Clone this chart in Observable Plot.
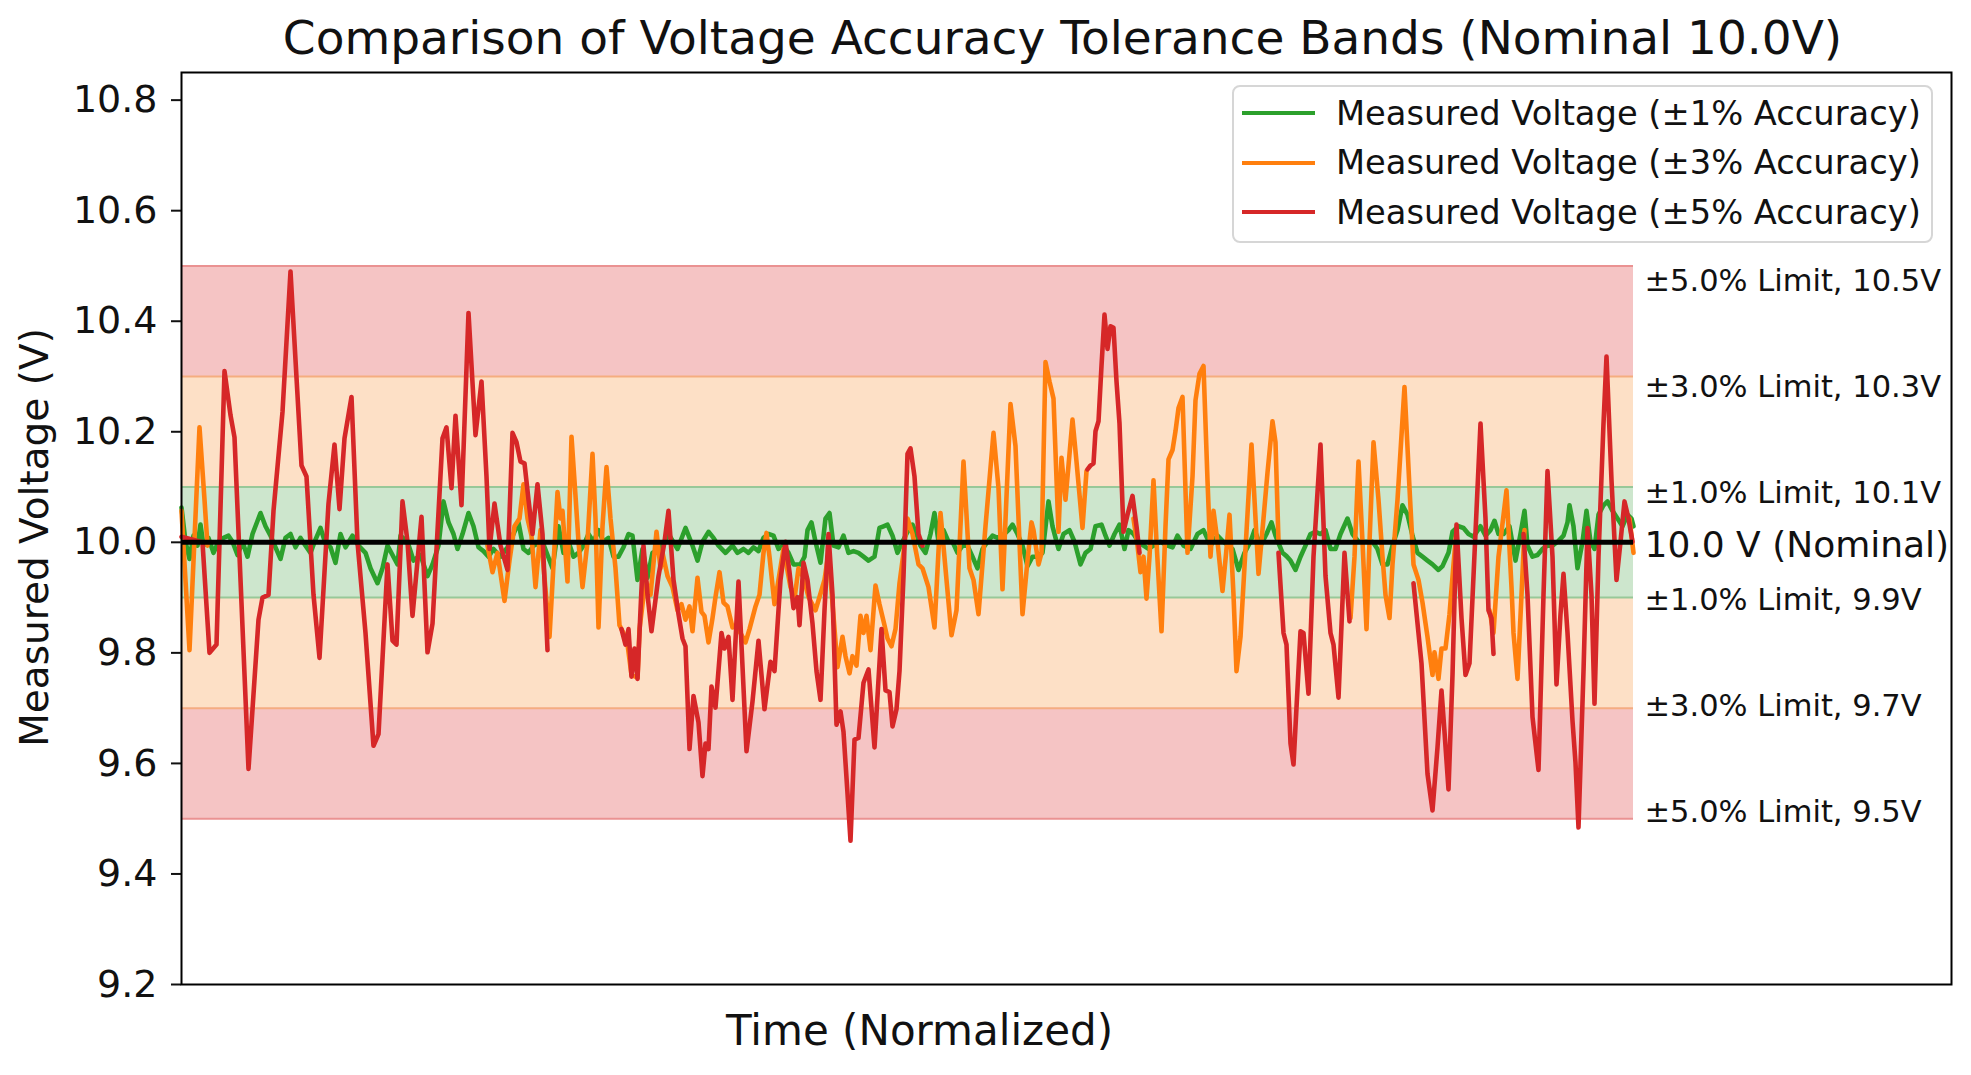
<!DOCTYPE html>
<html>
<head>
<meta charset="utf-8">
<script src="https://cdn.jsdelivr.net/npm/d3@7"></script>
<script src="https://cdn.jsdelivr.net/npm/@observablehq/plot@0.6"></script>
<style>
  body { margin: 0; background: #fff; font-family: "DejaVu Sans", sans-serif; }
  #chart { position: relative; width: 1971px; height: 1075px; }
  .legend { position: absolute; left: 1232px; top: 85px; width: 697px; height: 154px;
            border: 2px solid #d6d6d6; border-radius: 8px; background: rgba(255,255,255,0.85); }
  .legend .row { position: absolute; left: 0; height: 40px; display: flex; align-items: center; }
  .legend .swatch { width: 73px; height: 4px; margin-left: 8px; margin-right: 21px; }
  .legend .label { font-size: 33.7px; color: #111; white-space: nowrap; }
</style>
</head>
<body>
<div id="chart"></div>
<script>
// Nominal supply voltage and the accuracy classes (percent)
const nominal = 10.0;
const tolerances = [1, 3, 5];
const tierColors = {1: "#2ca02c", 3: "#ff7f0e", 5: "#d62728"};
const bandFills = {1: "#cde6cd", 3: "#fde0c6", 5: "#f5c4c4"};
const edgeColors = {1: "#98c898", 3: "#f5ad80", 5: "#ea9292"};
const yTicks = [9.2, 9.4, 9.6, 9.8, 10.0, 10.2, 10.4, 10.6, 10.8];

// Measured readings as [time, volts]; null volts mark dropouts in a trace
const green1pct = [[0,10.063],[4,10.001],[8,9.970],[12,10.012],[16,9.994],[19,10.032],[22,9.994],[27,10.008],[32,9.981],[37,10.001],[42,10.008],[47,10.012],[51,10.001],[56,9.977],[61,10.001],[66,9.974],[71,10.015],[79,10.053],[84,10.029],[89,10.012],[94,9.991],[99,9.970],[104,10.008],[109,10.015],[114,9.991],[119,10.008],[124,9.994],[129,9.981],[134,10.005],[139,10.026],[144,9.998],[149,9.991],[154,9.963],[159,10.015],[164,9.991],[171,10.012],[177,9.994],[184,9.981],[189,9.953],[196,9.926],[201,9.953],[206,9.994],[211,9.977],[216,9.960],[219,10.012],[226,10.001],[232,9.967],[239,9.977],[246,9.939],[251,9.960],[257,9.994],[262,10.074],[267,10.036],[272,10.015],[276,9.988],[281,10.015],[287,10.053],[292,10.029],[297,9.991],[302,9.984],[307,9.974],[312,9.988],[319,9.974],[326,9.991],[332,10.015],[337,10.036],[342,9.988],[347,9.981],[352,9.994],[361,10.001],[371,9.953],[377,10.029],[382,9.981],[387,10.001],[392,9.974],[397,9.981],[402,9.994],[407,10.015],[412,10.001],[417,10.022],[422,10.001],[427,10.008],[432,9.974],[437,9.974],[442,9.991],[447,10.015],[451,10.012],[456,9.932],[461,9.988],[466,9.936],[471,9.981],[479,9.988],[487,10.015],[496,9.988],[504,10.026],[511,9.994],[516,9.967],[521,10.001],[527,10.019],[532,10.008],[537,9.994],[544,9.981],[551,9.994],[556,9.981],[562,9.988],[567,9.981],[572,9.991],[577,9.984],[582,10.008],[587,10.015],[592,10.012],[597,9.988],[602,9.994],[607,9.981],[612,9.960],[619,9.960],[623,9.974],[626,10.022],[630,10.036],[634,10.001],[639,9.963],[644,10.043],[648,10.053],[652,9.994],[657,9.991],[662,10.012],[667,9.981],[672,9.984],[677,9.981],[682,9.974],[687,9.967],[693,9.974],[698,10.026],[702,10.029],[706,10.032],[711,10.012],[716,9.981],[721,10.001],[726,10.019],[731,10.032],[735,10.015],[739,9.994],[744,9.981],[749,10.015],[753,10.053],[757,10.001],[762,10.022],[767,10.001],[771,10.001],[776,9.981],[781,9.994],[786,9.994],[791,9.974],[796,9.953],[801,9.988],[806,10.001],[811,10.012],[816,10.008],[821,10.012],[827,10.022],[831,10.032],[836,10.015],[841,9.994],[846,9.957],[851,9.974],[856,9.974],[861,9.981],[867,10.074],[871,10.029],[877,9.988],[882,10.015],[888,10.022],[893,10.001],[899,9.960],[904,9.981],[909,9.988],[914,10.029],[920,10.032],[924,10.012],[928,9.994],[933,10.015],[938,10.032],[943,9.988],[947,10.022],[952,10.015],[957,10.001],[962,9.994],[967,9.988],[972,9.994],[979,10.001],[986,9.994],[991,9.991],[996,10.012],[1002,9.994],[1009,9.988],[1016,10.015],[1022,10.022],[1029,9.994],[1036,10.012],[1042,10.001],[1051,9.988],[1057,9.950],[1063,9.981],[1069,10.001],[1073,10.022],[1079,9.994],[1085,10.015],[1090,10.036],[1094,10.012],[1101,9.981],[1105,9.975],[1109,9.967],[1114,9.950],[1119,9.974],[1124,9.994],[1129,10.015],[1134,10.019],[1139,10.015],[1144,10.022],[1149,9.988],[1154,9.988],[1159,10.015],[1166,10.043],[1171,10.015],[1177,10.001],[1184,10.001],[1191,10.001],[1196,9.988],[1201,9.960],[1206,9.960],[1211,9.994],[1216,10.022],[1221,10.067],[1226,10.050],[1231,10.012],[1236,9.981],[1241,9.974],[1246,9.967],[1251,9.960],[1257,9.950],[1261,9.957],[1267,9.981],[1271,10.019],[1277,10.029],[1282,10.026],[1287,10.015],[1292,10.010],[1299,10.029],[1304,10.012],[1309,10.022],[1313,10.039],[1317,10.015],[1322,10.015],[1328,10.029],[1334,9.967],[1339,10.015],[1343,10.057],[1346,9.994],[1351,9.974],[1356,9.977],[1361,9.988],[1366,9.994],[1371,9.994],[1376,10.001],[1382,10.012],[1386,10.036],[1388,10.067],[1392,10.029],[1396,9.953],[1401,10.001],[1405,10.057],[1409,10.001],[1413,9.988],[1417,10.050],[1422,10.067],[1426,10.074],[1431,10.057],[1436,10.043],[1441,10.029],[1446,10.050],[1450,10.043],[1452,10.029]];

const orange3pct = [[0,10.057],[8,9.805],[18,10.208],[23,10.077],[26,9.994],[27,null],
  [306,9.994],[311,9.946],[316,9.981],[323,9.894],[328,9.967],[333,10.029],[338,10.043],[342,10.105],[346,10.043],[350,10.012],[354,9.919],[359,10.022],[368,9.829],[376,10.091],[379,10.043],[381,10.057],[386,9.929],[390,10.191],[394,10.084],[397,10.001],[401,9.919],[406,10.001],[411,10.160],[414,10.043],[417,9.846],[421,10.029],[425,10.136],[429,10.043],[434,9.953],[438,9.850],[442,9.836],[446,9.815],[450,9.760],[456,9.755],[458,9.843],[464,9.932],[469,9.905],[475,10.019],[479,9.953],[481,9.981],[486,9.939],[491,9.919],[496,9.877],[500,9.888],[504,9.860],[508,9.884],[511,9.839],[516,9.936],[520,9.874],[523,9.867],[527,9.819],[531,9.863],[534,9.901],[538,9.946],[542,9.891],[546,9.884],[551,9.846],[554,9.850],[559,9.836],[564,9.819],[568,9.843],[574,9.884],[578,9.905],[582,9.981],[585,10.017],[588,9.974],[593,9.888],[597,9.932],[602,9.988],[609,9.919],[613,9.898],[617,9.953],[622,9.936],[627,9.901],[634,9.877],[638,9.901],[643,9.932],[647,9.981],[652,9.867],[656,9.774],[661,9.829],[664,9.794],[668,9.763],[671,9.794],[675,9.777],[679,9.867],[682,9.836],[685,9.867],[689,9.805],[694,9.922],[698,9.888],[703,9.850],[706,9.826],[710,9.812],[714,9.843],[718,9.926],[722,9.981],[726,10.043],[731,10.015],[737,9.960],[741,9.953],[747,9.919],[753,9.846],[759,10.053],[765,9.932],[770,9.832],[775,9.877],[782,10.146],[788,9.953],[792,9.932],[797,9.870],[804,10.029],[812,10.198],[817,10.098],[821,9.915],[829,10.250],[834,10.174],[841,9.870],[846,9.967],[850,10.036],[852,10.022],[857,9.960],[860,9.981],[864,10.326],[868,10.291],[872,10.260],[877,10.019],[880,10.153],[884,10.077],[891,10.222],[895,10.146],[901,10.026],[905,10.129],[906,null],
  [952,10.043],[956,9.994],[959,9.946],[962,9.974],[965,9.898],[968,9.974],[972,10.112],[975,10.001],[980,9.839],[984,10.029],[987,10.150],[991,10.167],[994,10.201],[997,10.243],[1001,10.263],[1006,9.981],[1011,10.119],[1014,10.257],[1018,10.305],[1022,10.319],[1026,10.112],[1029,9.974],[1032,10.057],[1036,10.001],[1041,9.912],[1045,9.988],[1048,10.050],[1052,9.905],[1055,9.767],[1059,9.829],[1064,9.988],[1070,10.177],[1073,10.077],[1077,9.943],[1082,10.043],[1086,10.126],[1091,10.219],[1094,10.181],[1097,10.001],[1098,null],
  [1169,9.863],[1173,9.974],[1177,10.146],[1181,10.001],[1185,9.843],[1188,10.001],[1192,10.181],[1197,10.077],[1201,9.974],[1204,9.905],[1208,9.863],[1211,9.960],[1216,10.077],[1223,10.281],[1228,10.098],[1232,9.960],[1237,9.932],[1241,9.891],[1246,9.829],[1251,9.760],[1253,9.801],[1257,9.753],[1260,9.808],[1264,9.808],[1268,9.870],[1272,9.960],[1275,10.020],[1276,null],
  [1308,9.877],[1312,9.836],[1317,9.974],[1325,10.094],[1330,9.919],[1332,9.836],[1336,9.753],[1340,9.905],[1343,10.022],[1344,null],
  [1448,10.043],[1452,9.981]];

const red5pct = [[0,10.010],[21,10.000],[28,9.800],[35,9.815],[43,10.310],[49,10.230],[53,10.190],[67,9.590],[77,9.860],[81,9.900],[87,9.905],[92,10.057],[101,10.236],[109,10.490],[115,10.298],[120,10.139],[125,10.119],[132,9.905],[138,9.791],[147,10.070],[153,10.177],[158,10.060],[163,10.188],[170,10.263],[176,10.000],[184,9.836],[192,9.632],[197,9.653],[206,9.960],[211,9.822],[215,9.815],[221,10.074],[226,10.001],[231,9.867],[240,10.046],[246,9.801],[251,9.853],[261,10.188],[265,10.208],[270,10.098],[274,10.229],[280,10.067],[287,10.415],[294,10.194],[300,10.291],[305,10.119],[308,9.988],[313,10.070],[319,9.994],[326,9.950],[331,10.198],[335,10.181],[339,10.146],[343,10.143],[347,10.077],[351,10.015],[356,10.105],[361,10.015],[366,9.805],[367,null],
  [440,9.843],[444,9.815],[447,9.843],[450,9.757],[453,9.808],[456,9.753],[459,9.877],[462,9.994],[466,9.905],[470,9.839],[477,9.939],[483,10.001],[487,10.057],[492,9.932],[497,9.870],[501,9.826],[504,9.812],[508,9.626],[512,9.722],[517,9.674],[521,9.577],[524,9.636],[527,9.626],[530,9.739],[534,9.701],[540,9.836],[543,9.808],[547,9.829],[551,9.715],[557,9.929],[565,9.622],[571,9.712],[577,9.822],[583,9.698],[589,9.784],[593,9.767],[599,9.932],[604,10.001],[608,9.946],[612,9.881],[616,9.901],[618,9.850],[622,9.963],[626,9.932],[631,9.853],[635,9.767],[639,9.715],[643,9.877],[647,10.015],[651,9.905],[655,9.670],[659,9.694],[662,9.657],[666,9.546],[669,9.460],[673,9.643],[677,9.646],[682,9.746],[687,9.770],[693,9.629],[700,9.843],[704,9.732],[708,9.729],[711,9.667],[715,9.698],[718,9.767],[722,9.939],[726,10.160],[729,10.170],[733,10.119],[737,10.015],[741,9.994],[742,null],
  [906,10.132],[909,10.139],[912,10.143],[914,10.201],[917,10.219],[920,10.319],[923,10.412],[926,10.350],[929,10.391],[932,10.388],[935,10.291],[938,10.215],[942,10.019],[946,10.050],[951,10.084],[955,10.029],[958,9.981],[959,null],
  [1097,9.981],[1102,9.836],[1105,9.815],[1109,9.636],[1112,9.598],[1119,9.839],[1122,9.836],[1127,9.726],[1132,9.974],[1139,10.177],[1144,9.939],[1149,9.836],[1152,9.815],[1157,9.719],[1163,9.981],[1168,9.857],[1169,null],
  [1232,9.926],[1240,9.781],[1246,9.581],[1251,9.515],[1256,9.629],[1260,9.732],[1263,9.657],[1267,9.553],[1271,9.760],[1275,10.032],[1280,9.863],[1284,9.760],[1288,9.781],[1299,10.215],[1304,10.043],[1307,9.877],[1310,9.863],[1312,9.798],[1313,null],
  [1342,10.015],[1346,9.905],[1351,9.684],[1357,9.588],[1362,9.905],[1366,10.129],[1371,9.974],[1375,9.743],[1379,9.870],[1382,9.943],[1386,9.836],[1391,9.677],[1394,9.601],[1397,9.484],[1402,9.767],[1406,10.026],[1410,9.905],[1413,9.708],[1417,9.974],[1422,10.215],[1425,10.336],[1430,10.112],[1435,9.932],[1439,10.001],[1443,10.074],[1447,10.043],[1451,10.001]];

const series = [
  {tol: 1, name: "Measured Voltage (±1% Accuracy)", readings: green1pct},
  {tol: 3, name: "Measured Voltage (±3% Accuracy)", readings: orange3pct},
  {tol: 5, name: "Measured Voltage (±5% Accuracy)", readings: red5pct}
];

const title = "Comparison of Voltage Accuracy Tolerance Bands (Nominal 10.0V)";
const xLabel = "Time (Normalized)";
const yLabel = "Measured Voltage (V)";

// Time span covered by the recordings
const allTimes = series.flatMap(s => s.readings.map(r => r[0]));
const tStart = d3.min(allTimes);
const tEnd = d3.max(allTimes);

// Tolerance bands: each class fills the strip between its limit and the next tighter limit
const bands = [];
tolerances.forEach((p, i) => {
  const inner = i === 0 ? 0 : tolerances[i - 1];
  if (inner === 0) {
    bands.push({lo: nominal * (1 - p / 100), hi: nominal * (1 + p / 100), fill: bandFills[p]});
  } else {
    bands.push({lo: nominal * (1 + inner / 100), hi: nominal * (1 + p / 100), fill: bandFills[p]});
    bands.push({lo: nominal * (1 - p / 100), hi: nominal * (1 - inner / 100), fill: bandFills[p]});
  }
});

const limits = tolerances.flatMap(p => [
  {v: nominal * (1 + p / 100), p, color: edgeColors[p]},
  {v: nominal * (1 - p / 100), p, color: edgeColors[p]}
]);
limits.forEach(d => d.label = `±${d.p.toFixed(1)}% Limit, ${d.v.toFixed(1)}V`);

const rowsOf = s => s.readings.map(([t, v]) => ({t, v}));

const plot = Plot.plot({
  width: 1971,
  height: 1075,
  marginLeft: 181,
  marginRight: 20,
  marginTop: 72,
  marginBottom: 91,
  x: {domain: [0, 1770], axis: null},
  y: {domain: [9.2, 10.85], axis: null},
  color: {type: "identity"},
  style: {fontFamily: "DejaVu Sans", background: "white", color: "#111", overflow: "visible"},
  marks: [
    Plot.rectY(bands, {x1: () => tStart, x2: () => tEnd, y1: "lo", y2: "hi", fill: "fill"}),
    Plot.ruleY(limits, {y: "v", x1: () => tStart, x2: () => tEnd, stroke: "color", strokeWidth: 2}),
    ...series.map(s => Plot.line(rowsOf(s), {
      x: "t", y: "v", stroke: tierColors[s.tol], strokeWidth: 4.6,
      strokeLinejoin: "round", strokeLinecap: "round"
    })),
    Plot.ruleY([nominal], {x1: () => tStart, x2: () => tEnd, stroke: "black", strokeWidth: 5}),
    Plot.text(limits, {
      x: () => tEnd, y: d => d.v - 0.008 - (d.v - nominal) * 0.04, text: "label",
      textAnchor: "start", lineAnchor: "middle", dx: 11, fontSize: 30.5, fill: "#111"
    }),
    Plot.text([`${nominal.toFixed(1)} V (Nominal)`], {
      x: () => tEnd, y: () => nominal - 0.005, text: d => d,
      textAnchor: "start", lineAnchor: "middle", dx: 11, fontSize: 36, fill: "#111"
    }),
    Plot.axisY({ticks: yTicks, tickFormat: d3.format(".1f"), tickSize: 10, tickPadding: 14,
      fontSize: 38, strokeWidth: 2, label: null}),
    Plot.frame({stroke: "black", strokeWidth: 2}),
    Plot.text([title], {frameAnchor: "top", lineAnchor: "middle", textAnchor: "middle", dx: -4, dy: -34,
      fontSize: 47, text: d => d, fill: "#111"}),
    Plot.text([xLabel], {x: () => (tStart + tEnd) / 2, frameAnchor: "bottom", lineAnchor: "middle",
      textAnchor: "middle", dx: 12, dy: 47, fontSize: 42, text: d => d, fill: "#111"}),
    Plot.text([yLabel], {frameAnchor: "left", lineAnchor: "middle", textAnchor: "middle",
      dx: -146, dy: 9, rotate: -90, fontSize: 39, text: d => d, fill: "#111"})
  ]
});

const chart = document.getElementById("chart");
chart.appendChild(plot);

// Legend box in the upper right corner
const legend = document.createElement("div");
legend.className = "legend";
series.forEach((s, i) => {
  const row = document.createElement("div");
  row.className = "row";
  row.style.top = (6 + i * 49.5) + "px";
  const sw = document.createElement("div");
  sw.className = "swatch";
  sw.style.background = tierColors[s.tol];
  const lb = document.createElement("span");
  lb.className = "label";
  lb.textContent = s.name;
  row.appendChild(sw);
  row.appendChild(lb);
  legend.appendChild(row);
});
chart.appendChild(legend);
</script>
</body>
</html>
